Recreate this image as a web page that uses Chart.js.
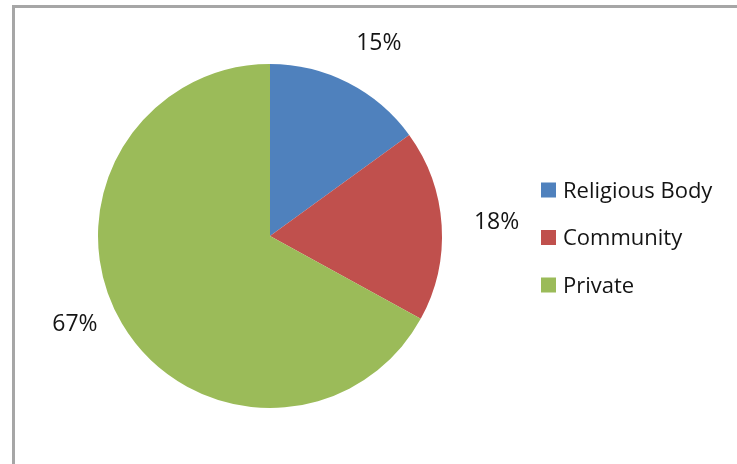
<!DOCTYPE html>
<html>
<head>
<meta charset="utf-8">
<script src="https://cdn.jsdelivr.net/npm/chart.js@4.4.1/dist/chart.umd.min.js"></script>
<style>
    body { margin: 0; background: #fff; }
    canvas { display: block; }
</style>
</head>
<body>
<canvas id="pieChart" width="737" height="464"></canvas>
<script>
const categories = ['Religious Body', 'Community', 'Private'];
const shares = [15, 18, 67];
const sliceColors = ['#4f81bd', '#c0504d', '#9bbb59'];

// frame line at top and left, like the cropped excel chart border
const framePlugin = {
    id: 'frame',
    beforeDraw(chart) {
        const ctx = chart.ctx;
        ctx.save();
        ctx.strokeStyle = '#a6a6a6';
        ctx.lineWidth = 3;
        ctx.beginPath();
        ctx.moveTo(13.5, 470);
        ctx.lineTo(13.5, 6.5);
        ctx.lineTo(740, 6.5);
        ctx.stroke();
        ctx.restore();
    }
};

// percent labels outside each slice (small nudges to mimic excel best fit)
const labelNudge = [[8, 4], [5, -1], [-4, -26]];
const outsideLabels = {
    id: 'outsideLabels',
    afterDatasetsDraw(chart) {
        const ctx = chart.ctx;
        const meta = chart.getDatasetMeta(0);
        ctx.save();
        ctx.font = '23px "Open Sans", sans-serif';
        ctx.fillStyle = '#141414';
        ctx.textAlign = 'center';
        ctx.textBaseline = 'alphabetic';
        meta.data.forEach((arc, i) => {
            const mid = (arc.startAngle + arc.endAngle) / 2;
            const r = arc.outerRadius + 50;
            const x = arc.x + Math.cos(mid) * r + labelNudge[i][0];
            const y = arc.y + Math.sin(mid) * r + labelNudge[i][1];
            ctx.fillText(shares[i] + '%', x, y + 8);
        });
        ctx.restore();
    }
};

// legend drawn at the right side
const sideLegend = {
    id: 'sideLegend',
    afterDraw(chart) {
        const ctx = chart.ctx;
        ctx.save();
        ctx.font = '22px "Open Sans", sans-serif';
        ctx.textBaseline = 'alphabetic';
        categories.forEach((name, i) => {
            const y = 190 + i * 47.5;
            ctx.fillStyle = sliceColors[i];
            ctx.fillRect(541, y - 7.5, 15, 15);
            ctx.fillStyle = '#141414';
            ctx.fillText(name, 563, y + 7.5);
        });
        ctx.restore();
    }
};

const ctx = document.getElementById('pieChart').getContext('2d');
new Chart(ctx, {
    type: 'pie',
    data: {
        labels: categories,
        datasets: [{
            data: shares,
            backgroundColor: sliceColors,
            borderWidth: 0
        }]
    },
    options: {
        responsive: false,
        animation: false,
        layout: {
            padding: { left: 98, top: 64, right: 295, bottom: 56 }
        },
        plugins: {
            legend: { display: false },
            tooltip: { enabled: false }
        }
    },
    plugins: [framePlugin, outsideLabels, sideLegend]
});
</script>
</body>
</html>
